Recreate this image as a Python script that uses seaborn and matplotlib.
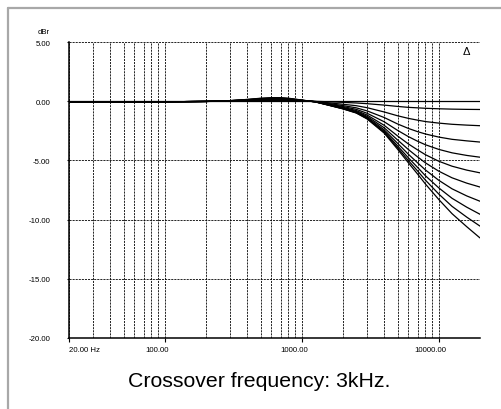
import numpy as np
import pandas as pd
import matplotlib
matplotlib.use("Agg")
import matplotlib.pyplot as plt
import matplotlib.transforms as mtransforms
from matplotlib.lines import Line2D
import seaborn as sns

freqs = [20, 50, 100, 200, 300, 400, 500, 600, 700, 800, 1000,
         1250, 1500, 2000, 2500, 3000, 4000, 5000, 6000, 7000, 8000,
         10000, 12500, 16000, 20000]

# level response for each shelf setting (dBr)
resp_0 = [0.00, 0.00, 0.00, 0.00, 0.00, 0.00, 0.00, 0.00, 0.00, 0.00, 0.00,
          0.00, 0.00, 0.00, 0.00, 0.00, 0.00, 0.00, 0.00, 0.00, 0.00,
          0.00, 0.00, 0.00, 0.00]
resp_1 = [-0.05, -0.05, -0.05, -0.02, 0.00, 0.02, 0.03, 0.03, 0.03, 0.03, 0.01,
          -0.01, -0.04, -0.10, -0.15, -0.21, -0.33, -0.44, -0.52, -0.56, -0.60,
          -0.64, -0.67, -0.69, -0.70]
resp_2 = [-0.05, -0.05, -0.05, -0.02, 0.01, 0.03, 0.05, 0.06, 0.06, 0.05, 0.02,
          -0.02, -0.11, -0.26, -0.38, -0.55, -0.91, -1.23, -1.45, -1.60, -1.72,
          -1.85, -1.95, -2.02, -2.07]
resp_3 = [-0.05, -0.05, -0.05, -0.02, 0.02, 0.05, 0.08, 0.09, 0.09, 0.08, 0.03,
          -0.03, -0.16, -0.37, -0.56, -0.82, -1.38, -1.92, -2.30, -2.57, -2.77,
          -3.03, -3.22, -3.35, -3.45]
resp_4 = [-0.05, -0.05, -0.05, -0.02, 0.02, 0.06, 0.10, 0.12, 0.12, 0.10, 0.04,
          -0.04, -0.20, -0.45, -0.69, -1.02, -1.74, -2.46, -2.99, -3.38, -3.68,
          -4.07, -4.36, -4.58, -4.73]
resp_5 = [-0.05, -0.05, -0.05, -0.02, 0.03, 0.08, 0.13, 0.15, 0.15, 0.13, 0.05,
          -0.04, -0.22, -0.52, -0.79, -1.17, -2.04, -2.93, -3.61, -4.11, -4.52,
          -5.07, -5.49, -5.82, -6.05]
resp_6 = [-0.05, -0.05, -0.05, -0.02, 0.03, 0.09, 0.15, 0.18, 0.18, 0.15, 0.06,
          -0.04, -0.24, -0.56, -0.86, -1.28, -2.25, -3.27, -4.08, -4.70, -5.21,
          -5.91, -6.47, -6.92, -7.25]
resp_7 = [-0.05, -0.05, -0.05, -0.02, 0.04, 0.11, 0.18, 0.21, 0.21, 0.18, 0.07,
          -0.05, -0.26, -0.59, -0.91, -1.36, -2.42, -3.55, -4.48, -5.20, -5.81,
          -6.68, -7.40, -8.00, -8.45]
resp_8 = [-0.05, -0.05, -0.05, -0.02, 0.04, 0.12, 0.20, 0.24, 0.24, 0.20, 0.08,
          -0.05, -0.27, -0.62, -0.95, -1.42, -2.54, -3.77, -4.78, -5.59, -6.30,
          -7.32, -8.20, -8.95, -9.55]
resp_9 = [-0.05, -0.05, -0.05, -0.02, 0.05, 0.14, 0.23, 0.27, 0.27, 0.23, 0.09,
          -0.05, -0.28, -0.64, -0.98, -1.47, -2.63, -3.92, -5.01, -5.89, -6.67,
          -7.84, -8.88, -9.79, -10.55]
resp_10 = [-0.05, -0.05, -0.05, -0.02, 0.05, 0.15, 0.25, 0.30, 0.30, 0.25, 0.10,
           -0.05, -0.28, -0.65, -1.00, -1.50, -2.70, -4.05, -5.20, -6.15, -7.00,
           -8.30, -9.50, -10.60, -11.55]

responses = [resp_0, resp_1, resp_2, resp_3, resp_4, resp_5,
             resp_6, resp_7, resp_8, resp_9, resp_10]

x_ticks = [20, 100, 1000, 10000]
x_labels = ["20.00 Hz", "100.00", "1000.00", "10000.00"]
y_ticks = [-20, -15, -10, -5, 0, 5]
grid_freqs = [30, 40, 50, 60, 70, 80, 90, 200, 300, 400, 500, 600, 700, 800, 900,
              2000, 3000, 4000, 5000, 6000, 7000, 8000, 9000, 20000]

# long table for seaborn
rows = []
for i, r in enumerate(responses):
    for f, v in zip(freqs, r):
        rows.append({"freq": f, "dBr": v, "setting": i})
df = pd.DataFrame(rows)

sns.set_style("white")
plt.rcParams['font.family'] = ['Liberation Sans', 'DejaVu Sans']
plt.rcParams['text.color'] = 'black'
plt.rcParams['xtick.color'] = 'black'
plt.rcParams['ytick.color'] = 'black'
plt.rcParams['xtick.labelcolor'] = 'black'
plt.rcParams['ytick.labelcolor'] = 'black'

fig = plt.figure(figsize=(5.01, 4.10), dpi=100)
ax = fig.add_axes([69 / 501, 1 - 339 / 410, 411 / 501, 296 / 410])

sns.lineplot(data=df, x="freq", y="dBr", units="setting", estimator=None,
             color="black", lw=0.9, ax=ax, legend=False)

ax.set_xscale("log")
ax.set_xlim(20, 20000)
ax.set_ylim(-20, 5)

# dashed grid
dash = (0, (2.5, 1.2))
ax.set_xticks(x_ticks)
ax.set_xticks(grid_freqs, minor=True)
ax.set_yticks(y_ticks)
ax.grid(True, which="both", axis="x", color="black", lw=0.6, linestyle=dash)
ax.grid(True, which="major", axis="y", color="black", lw=0.6, linestyle=dash)

ax.set_xticklabels(x_labels, fontsize=5.6)
ax.set_yticklabels([f"{v:.2f}" for v in y_ticks], fontsize=5.6)
ax.tick_params(axis="x", which="minor", length=0)
ax.tick_params(axis="x", which="major", length=3, width=0.8, pad=3, direction="out",
               bottom=True, colors="black")
ax.tick_params(axis="y", which="major", length=1.5, width=0.8, pad=12, direction="out",
               left=True, colors="black")

for i, lab in enumerate(ax.get_xticklabels()):
    if i == 0:
        lab.set_horizontalalignment("left")
    else:
        lab.set_transform(lab.get_transform() + mtransforms.ScaledTranslation(-8 / 100, 0, fig.dpi_scale_trans))

for s in ["top", "right"]:
    ax.spines[s].set_visible(False)
for s in ["left", "bottom"]:
    ax.spines[s].set_color("black")
    ax.spines[s].set_linewidth(1.1)

ax.set_xlabel("")
ax.set_ylabel("")
ax.text(44 / 501, 1 - 33 / 410, "dBr", transform=fig.transFigure, fontsize=5.6,
        ha="center", va="center", color="black")

# analyzer logo in the corner
ax.text(0.968, 0.968, "Δ", transform=ax.transAxes, fontsize=8, ha="center", va="center",
        color="black")

fig.text(259 / 501, 1 - 386.7 / 410, "Crossover frequency: 3kHz.", fontsize=15.3,
         ha="center", va="baseline", color="black")

# grey page frame
fig.add_artist(Line2D([8 / 501, 8 / 501], [0, 1 - 9 / 410], color="#a8a8a8", lw=1.6,
                      transform=fig.transFigure))
fig.add_artist(Line2D([8 / 501, 1], [1 - 9 / 410, 1 - 9 / 410], color="#a8a8a8", lw=1.6,
                      transform=fig.transFigure))

fig.savefig("out.png", dpi=100)
